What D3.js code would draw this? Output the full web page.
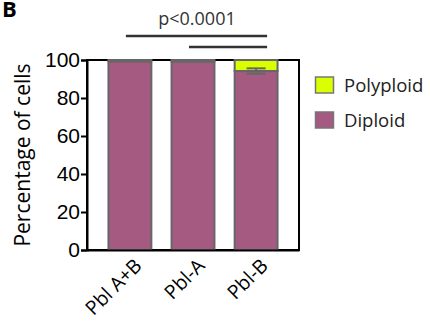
<!DOCTYPE html>
<html><head><meta charset="utf-8">
<script src="https://cdn.jsdelivr.net/npm/d3@7"></script>
<style>body{margin:0;background:#fff}svg{display:block}</style>
</head><body>
<script>
const categories = ["Pbl A+B", "Pbl-A", "Pbl-B"];
const diploid = [99.3, 99.2, 94.2];
const polyploid = [0.7, 0.8, 5.8];
const polyErr = [0, 0, 1.4];
const yTicks = [0, 20, 40, 60, 80, 100];
const seriesNames = ["Polyploid", "Diploid"];
const seriesColors = ["#d9ff00", "#a45a81"];

const W = 430, H = 333;
const svg = d3.select("body").append("svg").attr("width", W).attr("height", H);
const mLeft = 87, mRight = 299, mTop = 60, mBottom = 250;

const x = d3.scaleBand().domain(categories).range([mLeft, mRight]).paddingInner(0.32).paddingOuter(0.34);
const y = d3.scaleLinear().domain([0, 100]).range([mBottom, mTop]);

// frame
svg.append("rect").attr("x", mLeft).attr("y", mTop).attr("width", mRight - mLeft).attr("height", mBottom - mTop)
  .attr("fill", "none").attr("stroke", "#000").attr("stroke-width", 2);

// bars
const g = svg.append("g");
categories.forEach((c, i) => {
  g.append("rect").attr("x", x(c)).attr("width", x.bandwidth())
    .attr("y", y(diploid[i])).attr("height", y(0) - y(diploid[i]))
    .attr("fill", seriesColors[1]).attr("stroke", "#666").attr("stroke-width", 2);
  g.append("rect").attr("x", x(c)).attr("width", x.bandwidth())
    .attr("y", y(diploid[i] + polyploid[i])).attr("height", y(diploid[i]) - y(diploid[i] + polyploid[i]))
    .attr("fill", seriesColors[0]).attr("stroke", "#666").attr("stroke-width", 2);
  if (polyErr[i] > 0) {
    const cx = x(c) + x.bandwidth() / 2, hw = 9.5;
    const y1 = y(diploid[i] - polyErr[i]), y2 = y(diploid[i] + polyErr[i]);
    g.append("line").attr("x1", cx).attr("x2", cx).attr("y1", y1).attr("y2", y2).attr("stroke", "#666").attr("stroke-width", 2);
    g.append("line").attr("x1", cx - hw).attr("x2", cx + hw).attr("y1", y1).attr("y2", y1).attr("stroke", "#666").attr("stroke-width", 2);
    g.append("line").attr("x1", cx - hw).attr("x2", cx + hw).attr("y1", y2).attr("y2", y2).attr("stroke", "#666").attr("stroke-width", 2);
    g.append("line").attr("x1", cx - hw).attr("x2", cx + hw).attr("y1", y(diploid[i])).attr("y2", y(diploid[i])).attr("stroke", "#666").attr("stroke-width", 1.5);
  }
});

// y axis
const ya = svg.append("g").attr("transform", `translate(${mLeft},0)`)
  .call(d3.axisLeft(y).tickValues(yTicks).tickSize(6).tickPadding(1));
ya.select(".domain").attr("stroke", "#000").attr("stroke-width", 2);
ya.selectAll(".tick line").attr("stroke", "#000").attr("stroke-width", 2);
ya.selectAll(".tick text").attr("font-family", "Liberation Sans, Arial, sans-serif").attr("font-size", 21).attr("fill", "#000");

// x axis
const xa = svg.append("g").attr("transform", `translate(0,${mBottom})`)
  .call(d3.axisBottom(x).tickSize(0).tickPadding(0));
xa.select(".domain").attr("stroke", "#000").attr("stroke-width", 2);
xa.selectAll(".tick text")
  .attr("font-family", "Open Sans, sans-serif").attr("font-size", 19.5).attr("fill", "#000")
  .attr("text-anchor", "end").attr("dy", null)
  .attr("transform", "translate(13,17) rotate(-45)");

// y title
svg.append("text").attr("transform", `translate(30,155) rotate(-90)`)
  .attr("text-anchor", "middle").attr("font-family", "Open Sans, sans-serif").attr("font-size", 21)
  .attr("fill", "#000").text("Percentage of cells");

// significance
const c0 = x(categories[0]) + x.bandwidth() / 2, c1 = x(categories[1]) + x.bandwidth() / 2, c2 = x(categories[2]) + x.bandwidth() / 2;
svg.append("line").attr("x1", c0 - 4).attr("x2", c2 + 11).attr("y1", 36).attr("y2", 36).attr("stroke", "#333").attr("stroke-width", 2.5);
svg.append("line").attr("x1", c1 - 4).attr("x2", c2 + 11).attr("y1", 47).attr("y2", 47).attr("stroke", "#333").attr("stroke-width", 2.5);
svg.append("text").attr("x", 197).attr("y", 25).attr("text-anchor", "middle")
  .attr("font-family", "Open Sans, sans-serif").attr("font-size", 18).attr("fill", "#333").text("p<0.0001");

// panel letter
svg.append("text").attr("x", 2).attr("y", 17).attr("font-family", "Open Sans, sans-serif").attr("font-weight", "bold")
  .attr("font-size", 22).attr("fill", "#000").text("B");

// legend
seriesNames.forEach((n, i) => {
  const ly = 77 + i * 35;
  svg.append("rect").attr("x", 315.5).attr("y", ly).attr("width", 18).attr("height", 16)
    .attr("fill", seriesColors[i]).attr("stroke", "#777").attr("stroke-width", 1.5);
  svg.append("text").attr("x", 344).attr("y", ly + 15).attr("font-family", "Open Sans, sans-serif")
    .attr("font-size", 18.5).attr("fill", "#222").text(n);
});
</script>
</body></html>
